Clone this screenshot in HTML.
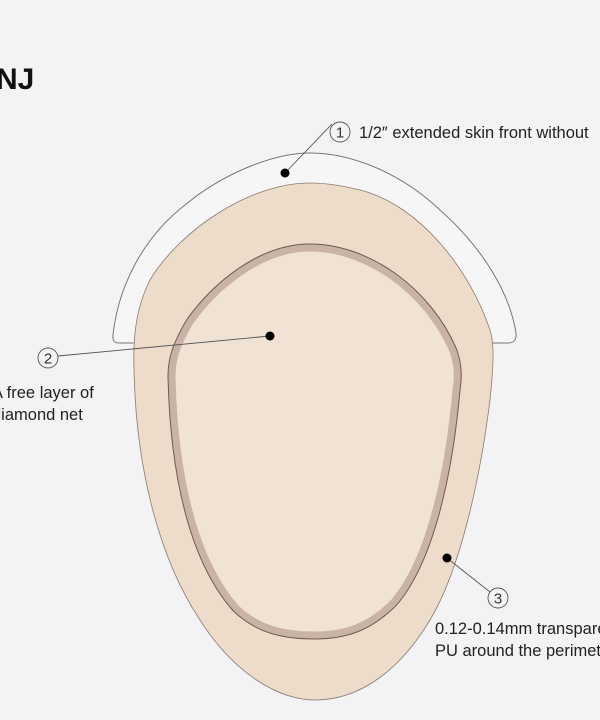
<!DOCTYPE html>
<html><head><style>
html,body{margin:0;padding:0;background:#f3f3f5;}
svg{display:block}
</style></head><body>
<svg width="600" height="720" viewBox="0 0 600 720" xmlns="http://www.w3.org/2000/svg" font-family="Liberation Sans, sans-serif">
<rect width="600" height="720" fill="#f3f3f5"/>
<text x="-4" y="89" font-size="30" font-weight="bold" fill="#111">NJ</text>
<path d="M122,343 L119,343 Q112,343 113,335 C118,290 140,240 185,205 C225,172 275,153 310,153 C350,153 400,172 440,210 C485,250 510,295 516,333 Q517,343 508,343 L490,343 Z" fill="#f6f6f7" stroke="#777" stroke-width="1"/>
<path d="M310,183 C250,183 180,230 150,280 C135,310 133,340 134,370 C136,470 160,560 200,620 C235,675 280,700 315,700 C360,700 400,670 430,620 C460,570 480,480 490,400 C493,370 495,345 490,330 C470,270 420,205 360,190 C340,185 325,183 310,183 Z" fill="#eddcca" stroke="#8a7a70" stroke-width="0.8"/>
<path d="M310,248 C260,248 215,287 190,322 C176,346 172,360 172,376 C174,470 192,558 236,608 C261,632 290,635 315,635 C345,635 369,627 393,603 C428,563 448,480 456,390 C458,376 458,366 453,351 C428,292 368,248 310,248 Z" fill="none" stroke="#6f5a52" stroke-width="9"/>
<path d="M310,248 C260,248 215,287 190,322 C176,346 172,360 172,376 C174,470 192,558 236,608 C261,632 290,635 315,635 C345,635 369,627 393,603 C428,563 448,480 456,390 C458,376 458,366 453,351 C428,292 368,248 310,248 Z" fill="#f0e3d4" stroke="#c9b3a6" stroke-width="7"/>
<g stroke="#555" stroke-width="0.9" fill="none">
<line x1="285" y1="173" x2="332" y2="124"/>
<circle cx="340" cy="132" r="10"/>
<line x1="270" y1="336" x2="58" y2="356"/>
<circle cx="48" cy="358" r="10"/>
<line x1="447" y1="558" x2="490" y2="592"/>
<circle cx="498" cy="598" r="10"/>
</g>
<g fill="#000"><circle cx="285" cy="173" r="4.5"/><circle cx="270" cy="336" r="4.5"/><circle cx="447" cy="558" r="4.5"/></g>
<g font-size="15" fill="#333" text-anchor="middle"><text x="340" y="137.5">1</text><text x="48" y="363.5">2</text><text x="498" y="603.5">3</text></g>
<g font-size="16.5" fill="#222">
<text x="359" y="138">1/2″ extended skin front without</text>
<text x="-8" y="398">A free layer of</text>
<text x="-8" y="420">diamond net</text>
<text x="435" y="634">0.12-0.14mm transparent</text>
<text x="435" y="656">PU around the perimeter</text>
</g>
</svg>
</body></html>
